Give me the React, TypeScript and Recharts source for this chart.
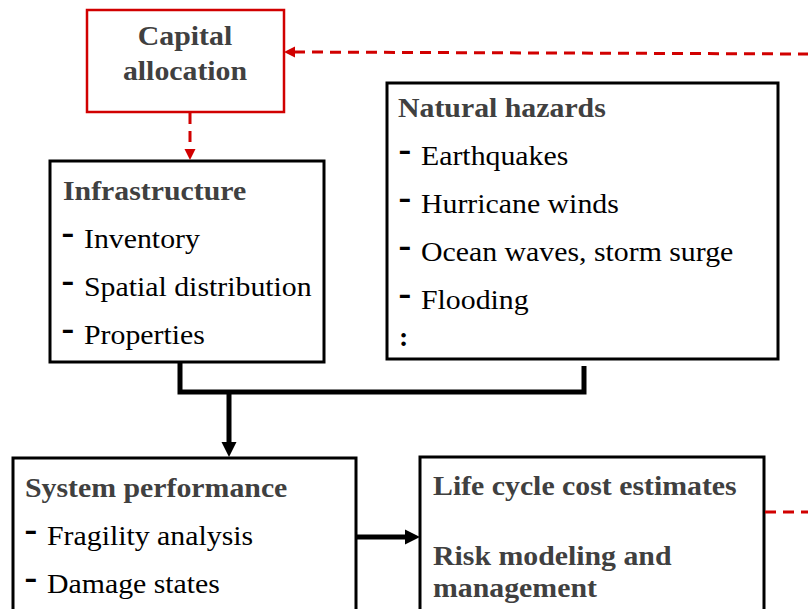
import React from "react";
import { ComposedChart, XAxis, YAxis, ReferenceArea, Line, Scatter } from "recharts";

// diagram units are the pixels of the original figure (808 x 609)
const W = 808;
const H = 609;

const RED = "#d10000";
const INK = "#000000";
const GREY = "#404040";
const FONT = '"Liberation Serif", "Times New Roman", Times, serif';
const STRETCH = 1.065; // the source figure's text is a little wider than plain Times

const boxes = [
  { id: "capital", x1: 87, y1: 10, x2: 284, y2: 112, tone: "red" },
  { id: "infra", x1: 50, y1: 161, x2: 324, y2: 362, tone: "black" },
  { id: "hazards", x1: 387, y1: 83, x2: 778, y2: 359, tone: "black" },
  { id: "system", x1: 13, y1: 458, x2: 356, y2: 630, tone: "black" },
  { id: "lifecycle", x1: 420, y1: 457, x2: 764, y2: 630, tone: "black" },
];

const bracket = [
  { x: 180, y: 363 },
  { x: 180, y: 392 },
  { x: 584, y: 392 },
  { x: 584, y: 366 },
];
const downStem = [
  { x: 229, y: 392 },
  { x: 229, y: 446 },
];
const rightStem = [
  { x: 357, y: 537 },
  { x: 407, y: 537 },
];
const feedbackTop = [
  { x: 294, y: 52 },
  { x: 808, y: 54 },
];
const capitalDown = [
  { x: 190, y: 113 },
  { x: 190, y: 151 },
];
const feedbackRight = [
  { x: 765, y: 512 },
  { x: 808, y: 512 },
];

const links = [
  { id: "bracket", points: bracket, tone: "black" },
  { id: "down", points: downStem, tone: "black" },
  { id: "right", points: rightStem, tone: "black" },
  { id: "fbTop", points: feedbackTop, tone: "red" },
  { id: "capDown", points: capitalDown, tone: "red" },
  { id: "fbRight", points: feedbackRight, tone: "red" },
];

const heads = [
  { x: 229, y: 457, dir: "down", tone: "black" },
  { x: 420, y: 537, dir: "right", tone: "black" },
  { x: 284, y: 52, dir: "left", tone: "red" },
  { x: 190, y: 160, dir: "down", tone: "red" },
];

const captions = [
  { x: 185, y: 45, text: "Capital", role: "center" },
  { x: 185, y: 80, text: "allocation", role: "center" },
  { x: 63, y: 200, text: "Infrastructure", role: "title" },
  { x: 84, y: 248, text: "Inventory", role: "item" },
  { x: 84, y: 296, text: "Spatial distribution", role: "item" },
  { x: 84, y: 344, text: "Properties", role: "item" },
  { x: 398, y: 117, text: "Natural hazards", role: "title" },
  { x: 421, y: 165, text: "Earthquakes", role: "item" },
  { x: 421, y: 213, text: "Hurricane winds", role: "item" },
  { x: 421, y: 261, text: "Ocean waves, storm surge", role: "item" },
  { x: 421, y: 309, text: "Flooding", role: "item" },
  { x: 399, y: 346, text: ":", role: "more" },
  { x: 25, y: 497, text: "System performance", role: "title" },
  { x: 47, y: 545, text: "Fragility analysis", role: "item" },
  { x: 47, y: 593, text: "Damage states", role: "item" },
  { x: 433, y: 495, text: "Life cycle cost estimates", role: "title" },
  { x: 433, y: 565, text: "Risk modeling and", role: "title" },
  { x: 433, y: 597, text: "management", role: "title" },
];

const toneStyle: Record<string, { color: string; box: number; line: number; dash?: string; head: number }> = {
  black: { color: INK, box: 3, line: 5, head: 15 },
  red: { color: RED, box: 2.5, line: 3, dash: "11 7", head: 11 },
};

function ArrowHead(props: any) {
  const { cx, cy, payload } = props;
  const s = toneStyle[payload.tone];
  const len = s.head;
  const half = len / 2;
  let pts = "";
  if (payload.dir === "down") pts = `${cx},${cy} ${cx - half},${cy - len} ${cx + half},${cy - len}`;
  if (payload.dir === "right") pts = `${cx},${cy} ${cx - len},${cy - half} ${cx - len},${cy + half}`;
  if (payload.dir === "left") pts = `${cx},${cy} ${cx + len},${cy - half} ${cx + len},${cy + half}`;
  return <polygon points={pts} fill={s.color} />;
}

function Caption(props: any) {
  const { cx, cy, payload } = props;
  const base = { fontFamily: FONT, fontSize: 28 };
  const stretch = `translate(${cx},${cy}) scale(${STRETCH},1)`;
  if (payload.role === "item") {
    return (
      <g>
        <text x={cx - 22.5} y={cy - 4} fontFamily={FONT} fontSize={38} fontWeight="bold" fill={INK}>
          -
        </text>
        <text transform={stretch} {...base} fill={INK}>
          {payload.text}
        </text>
      </g>
    );
  }
  if (payload.role === "more") {
    return (
      <text x={cx} y={cy} {...base} fontWeight="bold" fill={INK}>
        {payload.text}
      </text>
    );
  }
  return (
    <text
      transform={stretch}
      {...base}
      fontWeight="bold"
      fill={GREY}
      textAnchor={payload.role === "center" ? "middle" : "start"}
    >
      {payload.text}
    </text>
  );
}

export default function App() {
  return (
    <div style={{ position: "absolute", left: 0, top: 0, width: W, height: H, background: "#fff" }}>
      <ComposedChart width={W} height={H} margin={{ top: 0, right: 0, bottom: 0, left: 0 }}>
        <XAxis type="number" dataKey="x" domain={[0, W]} allowDataOverflow hide />
        <YAxis type="number" dataKey="y" domain={[0, H]} allowDataOverflow reversed hide />
        {boxes.map((b) => {
          const s = toneStyle[b.tone];
          return (
            <ReferenceArea
              key={b.id}
              x1={b.x1}
              x2={b.x2}
              y1={b.y1}
              y2={b.y2}
              fill="none"
              fillOpacity={0}
              stroke={s.color}
              strokeWidth={s.box}
              ifOverflow="hidden"
            />
          );
        })}
        {links.map((l) => {
          const s = toneStyle[l.tone];
          return (
            <Line
              key={l.id}
              data={l.points}
              dataKey="y"
              type="linear"
              stroke={s.color}
              strokeWidth={s.line}
              strokeDasharray={s.dash}
              strokeLinejoin="miter"
              strokeLinecap="butt"
              dot={false}
              activeDot={false}
              isAnimationActive={false}
            />
          );
        })}
        <Scatter data={heads} shape={ArrowHead} isAnimationActive={false} />
        <Scatter data={captions} shape={Caption} isAnimationActive={false} />
      </ComposedChart>
    </div>
  );
}
